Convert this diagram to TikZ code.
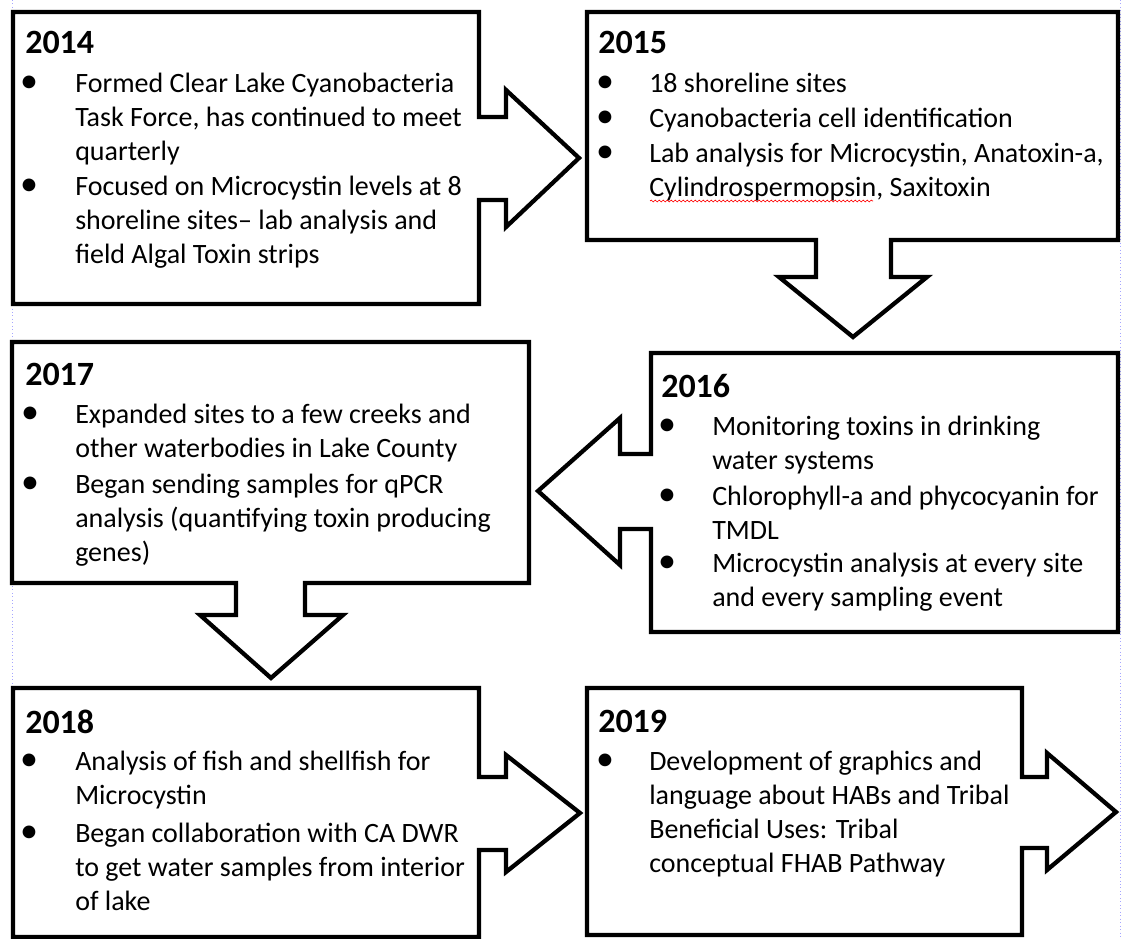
\documentclass[tikz,border=0pt]{standalone}
\usepackage{fontspec}
\setmainfont{Carlito}
\usetikzlibrary{decorations.pathmorphing}

% lines of one item, baseline at the first line
\newcommand{\itemlines}[1]{\begin{tabular}[t]{@{}l@{}}#1\end{tabular}}

\tikzset{
  stageframe/.style={draw=black, fill=white, line width=3.2pt, line join=miter},
  yearlabel/.style={anchor=base west, inner sep=0pt, font=\bfseries\fontsize{25.5}{28}\selectfont},
  itemtext/.style={anchor=base west, inner sep=0pt, font=\fontsize{21}{25.5}\selectfont},
  itembullet/.style={anchor=base, inner sep=0pt, font=\fontsize{27}{25.5}\selectfont},
  marginline/.style={draw=blue!35, dotted, line width=0.6pt},
}

\begin{document}
\begin{tikzpicture}[x=0.75pt, y=-0.75pt]
  \useasboundingbox (0,0) rectangle (1122,939);

  % page margin guides
  \draw[marginline] (12,0) -- (12,939);
  \draw[marginline] (1120,0) -- (1120,939);

  % frames with their arrows
  \draw[stageframe] (13,12) -- (479,12) -- (479,117) -- (506,117) -- (506,90) -- (579,158)
        -- (506,227) -- (506,200) -- (479,200) -- (479,304) -- (13,304) -- cycle;
  \draw[stageframe] (587,12) -- (1118,12) -- (1118,240) -- (891,240) -- (891,277) -- (927,277)
        -- (853,337) -- (779,277) -- (816,277) -- (816,240) -- (587,240) -- cycle;
  \draw[stageframe] (651,353) -- (1118,353) -- (1118,632) -- (651,632) -- (651,529) -- (620,529)
        -- (620,565) -- (538,491) -- (620,418) -- (620,454) -- (651,454) -- cycle;
  \draw[stageframe] (12,342) -- (529,342) -- (529,583) -- (305,583) -- (305,615) -- (343,615)
        -- (271,678) -- (200,615) -- (236,615) -- (236,583) -- (12,583) -- cycle;
  \draw[stageframe] (13,688) -- (479,688) -- (479,777) -- (506,777) -- (506,755) -- (580,813)
        -- (506,872) -- (506,850) -- (479,850) -- (479,937) -- (13,937) -- cycle;
  \draw[stageframe] (587,688) -- (1022,688) -- (1022,777) -- (1047,777) -- (1047,753) -- (1116,812)
        -- (1047,870) -- (1047,848) -- (1022,848) -- (1022,935) -- (587,935) -- cycle;

  % 2014
  \node[yearlabel] (h2014) at (25,53) {2014};
  \node[itembullet] (b2014a) at (29,92) {•};
  \node[itemtext] (t2014a) at (75,92) {\itemlines{Formed Clear Lake Cyanobacteria\\Task Force, has continued to meet\\quarterly}};
  \node[itembullet] (b2014b) at (29,195) {•};
  \node[itemtext] (t2014b) at (75,195) {\itemlines{Focused on Microcystin levels at 8\\shoreline sites– lab analysis and\\field Algal Toxin strips}};

  % 2015
  \node[yearlabel] (h2015) at (598,53) {2015};
  \node[itembullet] (b2015a) at (605,92) {•};
  \node[itemtext] (t2015a) at (649,92) {18 shoreline sites};
  \node[itembullet] (b2015b) at (605,127) {•};
  \node[itemtext] (t2015b) at (649,127) {Cyanobacteria cell identification};
  \node[itembullet] (b2015c) at (605,162) {•};
  \node[itemtext] (t2015c) at (649,162) {\itemlines{Lab analysis for Microcystin, Anatoxin-a,\\Cylindrospermopsin, Saxitoxin}};
  \draw[red, line width=0.5pt, decorate, decoration={snake, amplitude=0.7pt, segment length=3pt}]
        (650,201) -- (873,201);

  % 2016
  \node[yearlabel] (h2016) at (661,397) {2016};
  \node[itembullet] (b2016a) at (667,435) {•};
  \node[itemtext] (t2016a) at (712,435) {\itemlines{Monitoring toxins in drinking\\water systems}};
  \node[itembullet] (b2016b) at (667,505) {•};
  \node[itemtext] (t2016b) at (712,505) {\itemlines{Chlorophyll-a and phycocyanin for\\TMDL}};
  \node[itembullet] (b2016c) at (667,572) {•};
  \node[itemtext] (t2016c) at (712,572) {\itemlines{Microcystin analysis at every site\\and every sampling event}};

  % 2017
  \node[yearlabel] (h2017) at (25,385) {2017};
  \node[itembullet] (b2017a) at (30,423) {•};
  \node[itemtext] (t2017a) at (75,423) {\itemlines{Expanded sites to a few creeks and\\other waterbodies in Lake County}};
  \node[itembullet] (b2017b) at (30,493) {•};
  \node[itemtext] (t2017b) at (75,493) {\itemlines{Began sending samples for qPCR\\analysis (quantifying toxin producing\\genes)}};

  % 2018
  \node[yearlabel] (h2018) at (25,733) {2018};
  \node[itembullet] (b2018a) at (29,770) {•};
  \node[itemtext] (t2018a) at (75,770) {\itemlines{Analysis of fish and shellfish for\\Microcystin}};
  \node[itembullet] (b2018b) at (29,842) {•};
  \node[itemtext] (t2018b) at (75,842) {\itemlines{Began collaboration with CA DWR\\to get water samples from interior\\of lake}};

  % 2019
  \node[yearlabel] (h2019) at (598,732) {2019};
  \node[itembullet] (b2019a) at (605,770) {•};
  \node[itemtext] (t2019a) at (649,770) {\itemlines{Development of graphics and\\language about HABs and Tribal\\Beneficial Uses: Tribal\\conceptual FHAB Pathway}};
\end{tikzpicture}
\end{document}
